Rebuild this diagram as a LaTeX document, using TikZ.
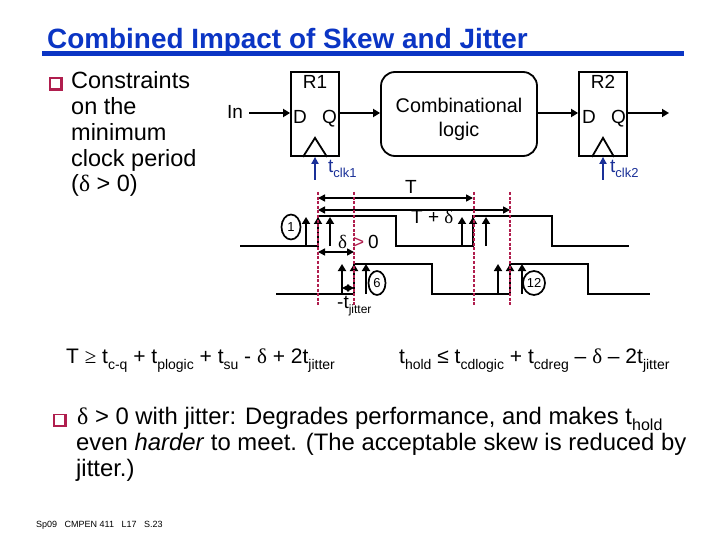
\documentclass[tikz,border=0pt]{standalone}
\usepackage{fontspec}
\setmainfont{Liberation Sans}
\newfontfamily\symf{Liberation Serif}
\usetikzlibrary{arrows.meta,shapes.geometric}
\definecolor{titleblue}{HTML}{0B35C4}
\definecolor{crim}{HTML}{B01E4E}
\definecolor{navy}{HTML}{1A3098}
\newcommand{\fs}[1]{\fontsize{#1}{#1}\selectfont}
\newcommand{\lsub}[3]{\raisebox{-#1pt}{\fs{#2}#3}}
\newcommand{\dl}{{\symf δ}}
\tikzset{
  txt/.style={anchor=base west,inner sep=0pt,font=\fs{23.5}},
  dia/.style={inner sep=0pt,font=\fs{19}},
  eq/.style={anchor=base west,inner sep=0pt,font=\fs{21}},
  wire/.style={draw=black,line width=1.8pt},
  arr/.style={draw=black,line width=1.7pt,-{Triangle[length=7pt,width=8pt]}},
  darr/.style={draw=black,line width=1.6pt,{Triangle[length=7pt,width=7pt]}-{Triangle[length=7pt,width=7pt]}},
  blk/.style={draw=black,line width=1.8pt,minimum width=48pt,minimum height=84pt,inner sep=0pt},
  blu/.style={draw=navy,line width=1.8pt,-{Triangle[length=7pt,width=7pt]}},
  skew/.style={draw=crim,line width=2.8pt,dash pattern=on 3pt off 1.6pt},
  circ/.style={draw=black,line width=1.7pt,ellipse,inner sep=0pt,font=\fs{13}},
  bul/.style={draw=crim,line width=1.3pt,fill=white,minimum width=11pt,minimum height=11pt,inner sep=0pt},
}
\begin{document}
\begin{tikzpicture}[x=1pt,y=-1pt]
\useasboundingbox[fill=white] (0,0) rectangle (720,540);
% title
\node[anchor=base west,inner sep=0pt,font=\fs{27.9}\bfseries,text=titleblue] (title) at (47,49) {Combined Impact of Skew and Jitter};
\fill[titleblue] (42,51) rectangle (684,56.5);
% first bullet
\node[bul] (b1) at (55.5,83.5) {};
\draw[crim,line width=2.4pt] (b1.south west) -- (b1.south east) -- (b1.north east);
\node[txt] (c1) at (71,89) {Constraints};
\node[txt] (c2) at (71,114.5) {on the};
\node[txt] (c3) at (71,140.5) {minimum};
\node[txt] (c4) at (71,166.5) {clock period};
\node[txt] (c5) at (71,192) {(\dl{} > 0)};
% circuit
\node[dia,anchor=base west] (in) at (227,119) {In};
\node[blk] (R1) at (315,114) {};
\node[blk] (R2) at (603,114) {};
\node[draw=black,line width=1.8pt,rounded corners=14pt,minimum width=156pt,minimum height=84pt,inner sep=0pt] (logic) at (459,114) {};
\node[dia,anchor=base] (r1t) at (315,89) {R1};
\node[dia,anchor=base] (r2t) at (603,89) {R2};
\node[dia,anchor=base west] (d1) at (293,124) {D};
\node[dia,anchor=base west] (q1) at (322,124) {Q};
\node[dia,anchor=base west] (d2) at (582,124) {D};
\node[dia,anchor=base west] (q2) at (611,124) {Q};
\node[dia,anchor=base,font=\fs{19.8}] (cl1) at (459,113) {Combinational};
\node[dia,anchor=base,font=\fs{19.8}] (cl2) at (459,137) {logic};
\coordinate (inS) at (249,113);
\coordinate (outE) at (669,113);
\coordinate (y113) at (0,113);
\draw[arr] (inS) -- (inS -| R1.west);
\draw[arr] (y113 -| R1.east) -- (y113 -| logic.west);
\draw[arr] (y113 -| logic.east) -- (y113 -| R2.west);
\draw[arr] (y113 -| R2.east) -- (outE);
\draw[wire] (R1.south)++(-12,0) -- ++(12,-19) -- ++(12,19);
\draw[wire] (R2.south)++(-11,0) -- ++(11,-19) -- ++(11,19);
\coordinate (ck1) at (315,180);
\coordinate (ck2) at (603,180);
\draw[blu] (ck1) -- (R1.south);
\draw[blu] (ck2) -- (R2.south);
\node[anchor=base west,inner sep=0pt,text=navy,font=\fs{19}] (t1) at (328,173) {t\lsub{5}{13}{clk1}};
\node[anchor=base west,inner sep=0pt,text=navy,font=\fs{19}] (t2) at (610,173) {t\lsub{5}{13}{clk2}};
% waveforms
\draw[wire,line join=miter] (240,246) -- (318,246) -- (318,216) -- (396,216) -- (396,246) -- (473,246) -- (473,216) -- (552,216) -- (552,246) -- (629,246);
\draw[wire,line join=miter] (276,294) -- (354,294) -- (354,264) -- (432,264) -- (432,294) -- (510,294) -- (510,264) -- (588,264) -- (588,294) -- (650,294);
% clock edge arrows
\foreach \x in {306,318,330,462,473,486} \draw[arr] (\x,246) -- (\x,217);
\foreach \x in {342,354,366,498,510,522} \draw[arr] (\x,294) -- (\x,264);
% skew guides
\coordinate (s1t) at (318,192); \coordinate (s1b) at (318,305);
\coordinate (s2t) at (354,192); \coordinate (s2b) at (354,305);
\coordinate (s3t) at (474,192); \coordinate (s3b) at (474,305);
\coordinate (s4t) at (510,192); \coordinate (s4b) at (510,305);
% timing arrows
\draw[darr] (318,198) -- (473,198);
\draw[darr] (318,210) -- (510,210);
\draw[darr] (318,252) -- (354,252);
\draw[darr,line width=1.4pt] (342,288) -- (354,288);
\draw[skew] (s1t) -- (s1b);
\draw[skew] (s2t) -- (s2b);
\draw[skew] (s3t) -- (s3b);
\draw[skew] (s4t) -- (s4b);
% labels
\node[dia,anchor=base west] (lt) at (405,194) {T};
\node[dia,anchor=base west] (ltd) at (411,224) {T + \dl};
\node[dia,anchor=base west] (ld) at (338,248) {\dl};
\node[dia,anchor=base west,text=crim] (lg) at (353,248) {>};
\node[dia,anchor=base west] (l0) at (368,248) {0};
\node[anchor=base west,inner sep=0pt,font=\fs{19}] (ljit) at (337,308) {-t\lsub{5}{12}{jitter}};
\node[circ,minimum width=19pt,minimum height=25pt] (n1) at (291,227) {1};
\node[circ,minimum width=17pt,minimum height=24pt] (n6) at (377,283) {6};
\node[circ,minimum width=22pt,minimum height=24pt] (n12) at (534,283) {12};
% equations
\node[eq] (e1) at (66,363) {T {\symf ≥} t\lsub{6}{14}{c-q} + t\lsub{6}{14}{plogic} + t\lsub{6}{14}{su} - \dl{} + 2t\lsub{6}{14}{jitter}};
\node[eq] (e2) at (399,363) {t\lsub{6}{14}{hold} ≤ t\lsub{6}{14}{cdlogic} + t\lsub{6}{14}{cdreg} – \dl{} – 2t\lsub{6}{14}{jitter}};
% second bullet
\node[bul] (b2) at (59.5,420) {};
\draw[crim,line width=2.4pt] (b2.south west) -- (b2.south east) -- (b2.north east);
\node[txt,font=\fs{23.85}] (f1) at (77,424) {\dl{} > 0 with jitter: Degrades performance, and makes t\lsub{6}{16}{hold}};
\node[txt,font=\fs{23.85}] (f2) at (76,450) {even \textit{harder} to meet. (The acceptable skew is reduced by};
\node[txt,font=\fs{23.85}] (f3) at (76,476) {jitter.)};
% footer
\node[anchor=base west,inner sep=0pt,font=\fs{9}] (foot) at (36,527) {Sp09\hspace{5pt} CMPEN 411\hspace{5pt} L17\hspace{5pt} S.23};
\end{tikzpicture}
\end{document}
